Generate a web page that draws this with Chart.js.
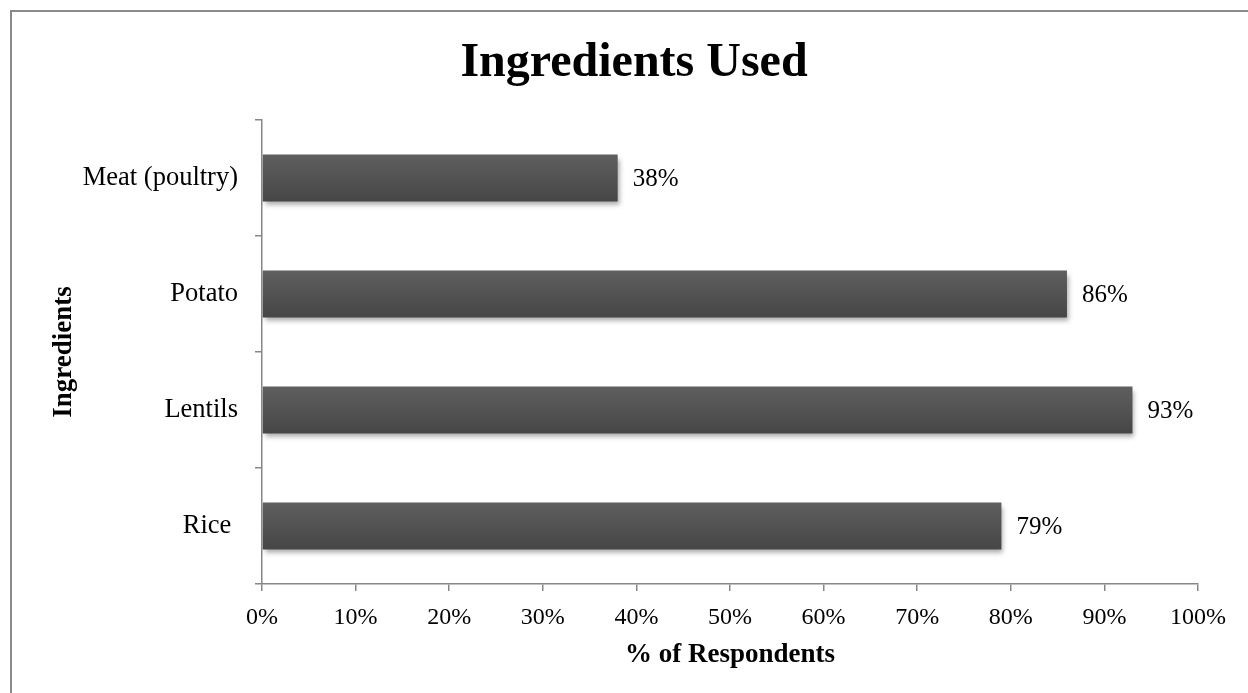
<!DOCTYPE html>
<html>
<head>
<meta charset="utf-8">
<title>Ingredients Used</title>
<script src="https://cdn.jsdelivr.net/npm/chart.js@4"></script>
<style>
    html, body { margin: 0; padding: 0; background: #fff; overflow: hidden; }
    canvas { display: block; }
</style>
</head>
<body>
<canvas id="grafico" width="1248" height="693"></canvas>
<script>
// datos
const categorias = ["Rice ", "Lentils", "Potato", "Meat (poultry)"];
const porcentajes = [79, 93, 86, 38];
const marcasX = [0, 10, 20, 30, 40, 50, 60, 70, 80, 90, 100];

const fuente = "'Liberation Serif', 'Times New Roman', Times, serif";
const gris = "#878787";
const grosor = 0.405;

//! marco exterior y titulo
const marco = {
    id: "marco",
    beforeDraw(chart) {
        const c = chart.ctx;
        c.save();
        c.strokeStyle = "#8a8a8a";
        c.lineWidth = 2;
        c.beginPath();
        c.moveTo(11, chart.height + 5);
        c.lineTo(11, 11);
        c.lineTo(chart.width + 5, 11);
        c.stroke();

        c.fillStyle = "#000";
        c.font = "bold 48px " + fuente;
        c.textAlign = "center";
        c.textBaseline = "middle";
        c.fillText("Ingredients Used", 634, 64);
        c.restore();
    },
};

// degradado vertical para cada barra
function degradado(context) {
    const chart = context.chart;
    const y = chart.scales.y;
    if (!y || !chart.chartArea) return "#535353";
    const centro = y.getPixelForValue(context.dataIndex);
    const mitad = (chart.chartArea.height / categorias.length) * grosor / 2;
    const g = chart.ctx.createLinearGradient(0, centro - mitad, 0, centro + mitad);
    g.addColorStop(0, "#5f5f5f");
    g.addColorStop(1, "#464646");
    return g;
}

//! sombra de las barras + etiquetas
const barras = {
    id: "barras",
    beforeDatasetsDraw(chart) {
        const c = chart.ctx;
        c.save();
        c.shadowColor = "rgba(0, 0, 0, 0.35)";
        c.shadowBlur = 5;
        c.shadowOffsetX = 2;
        c.shadowOffsetY = 4;
    },
    afterDatasetsDraw(chart) {
        const c = chart.ctx;
        c.restore();
        c.save();
        c.fillStyle = "#000";
        c.font = "25px " + fuente;
        c.textAlign = "left";
        c.textBaseline = "middle";
        chart.getDatasetMeta(0).data.forEach((bar, i) => {
            const p = bar.getProps(["x", "y"], true);
            c.fillText(porcentajes[i] + "%", p.x + 15, p.y + 1);
        });
        c.restore();
    },
};

document.addEventListener("DOMContentLoaded", function () {
    var ctx = document.getElementById("grafico").getContext("2d");
    var grafico = new Chart(ctx, {
        type: "bar",
        data: {
            labels: categorias,
            datasets: [
                {
                    label: "% of Respondents",
                    data: porcentajes,
                    backgroundColor: degradado,
                    borderWidth: 0,
                    barPercentage: grosor,
                    categoryPercentage: 1,
                },
            ],
        },
        options: {
            responsive: false,
            animation: false,
            indexAxis: "y",
            layout: {
                padding: { left: 0, right: 50, top: 120, bottom: 0 },
            },
            plugins: {
                legend: { display: false },
                tooltip: { enabled: false },
                title: { display: false },
            },
            scales: {
                x: {
                    min: 0,
                    max: 100,
                    afterBuildTicks: function (scale) {
                        scale.ticks = marcasX.map(v => ({ value: v }));
                    },
                    afterFit: function (scale) {
                        scale.height = 109;
                    },
                    border: { display: true, color: gris, width: 1.5 },
                    grid: {
                        drawOnChartArea: false,
                        drawTicks: true,
                        tickLength: 7,
                        color: gris,
                        lineWidth: 1.5,
                    },
                    ticks: {
                        color: "#000",
                        padding: 12,
                        maxRotation: 0,
                        font: { family: fuente, size: 24 },
                        callback: v => v + "%",
                    },
                    title: {
                        display: true,
                        text: "% of Respondents",
                        color: "#000",
                        font: { family: fuente, size: 27, weight: "bold" },
                        padding: { top: 0, bottom: 22 },
                    },
                },
                y: {
                    reverse: true,
                    afterFit: function (scale) {
                        scale.width = 262;
                    },
                    border: { display: true, color: gris, width: 1.5 },
                    grid: {
                        offset: true,
                        drawOnChartArea: false,
                        drawTicks: true,
                        tickLength: 7,
                        color: gris,
                        lineWidth: 1.5,
                    },
                    ticks: {
                        color: "#000",
                        padding: 17,
                        font: { family: fuente, size: 26.5 },
                    },
                    title: {
                        display: true,
                        text: "Ingredients",
                        color: "#000",
                        font: { family: fuente, size: 27, weight: "bold" },
                        padding: { top: 48, bottom: 0 },
                    },
                },
            },
        },
        plugins: [marco, barras],
    });
});
</script>
</body>
</html>
